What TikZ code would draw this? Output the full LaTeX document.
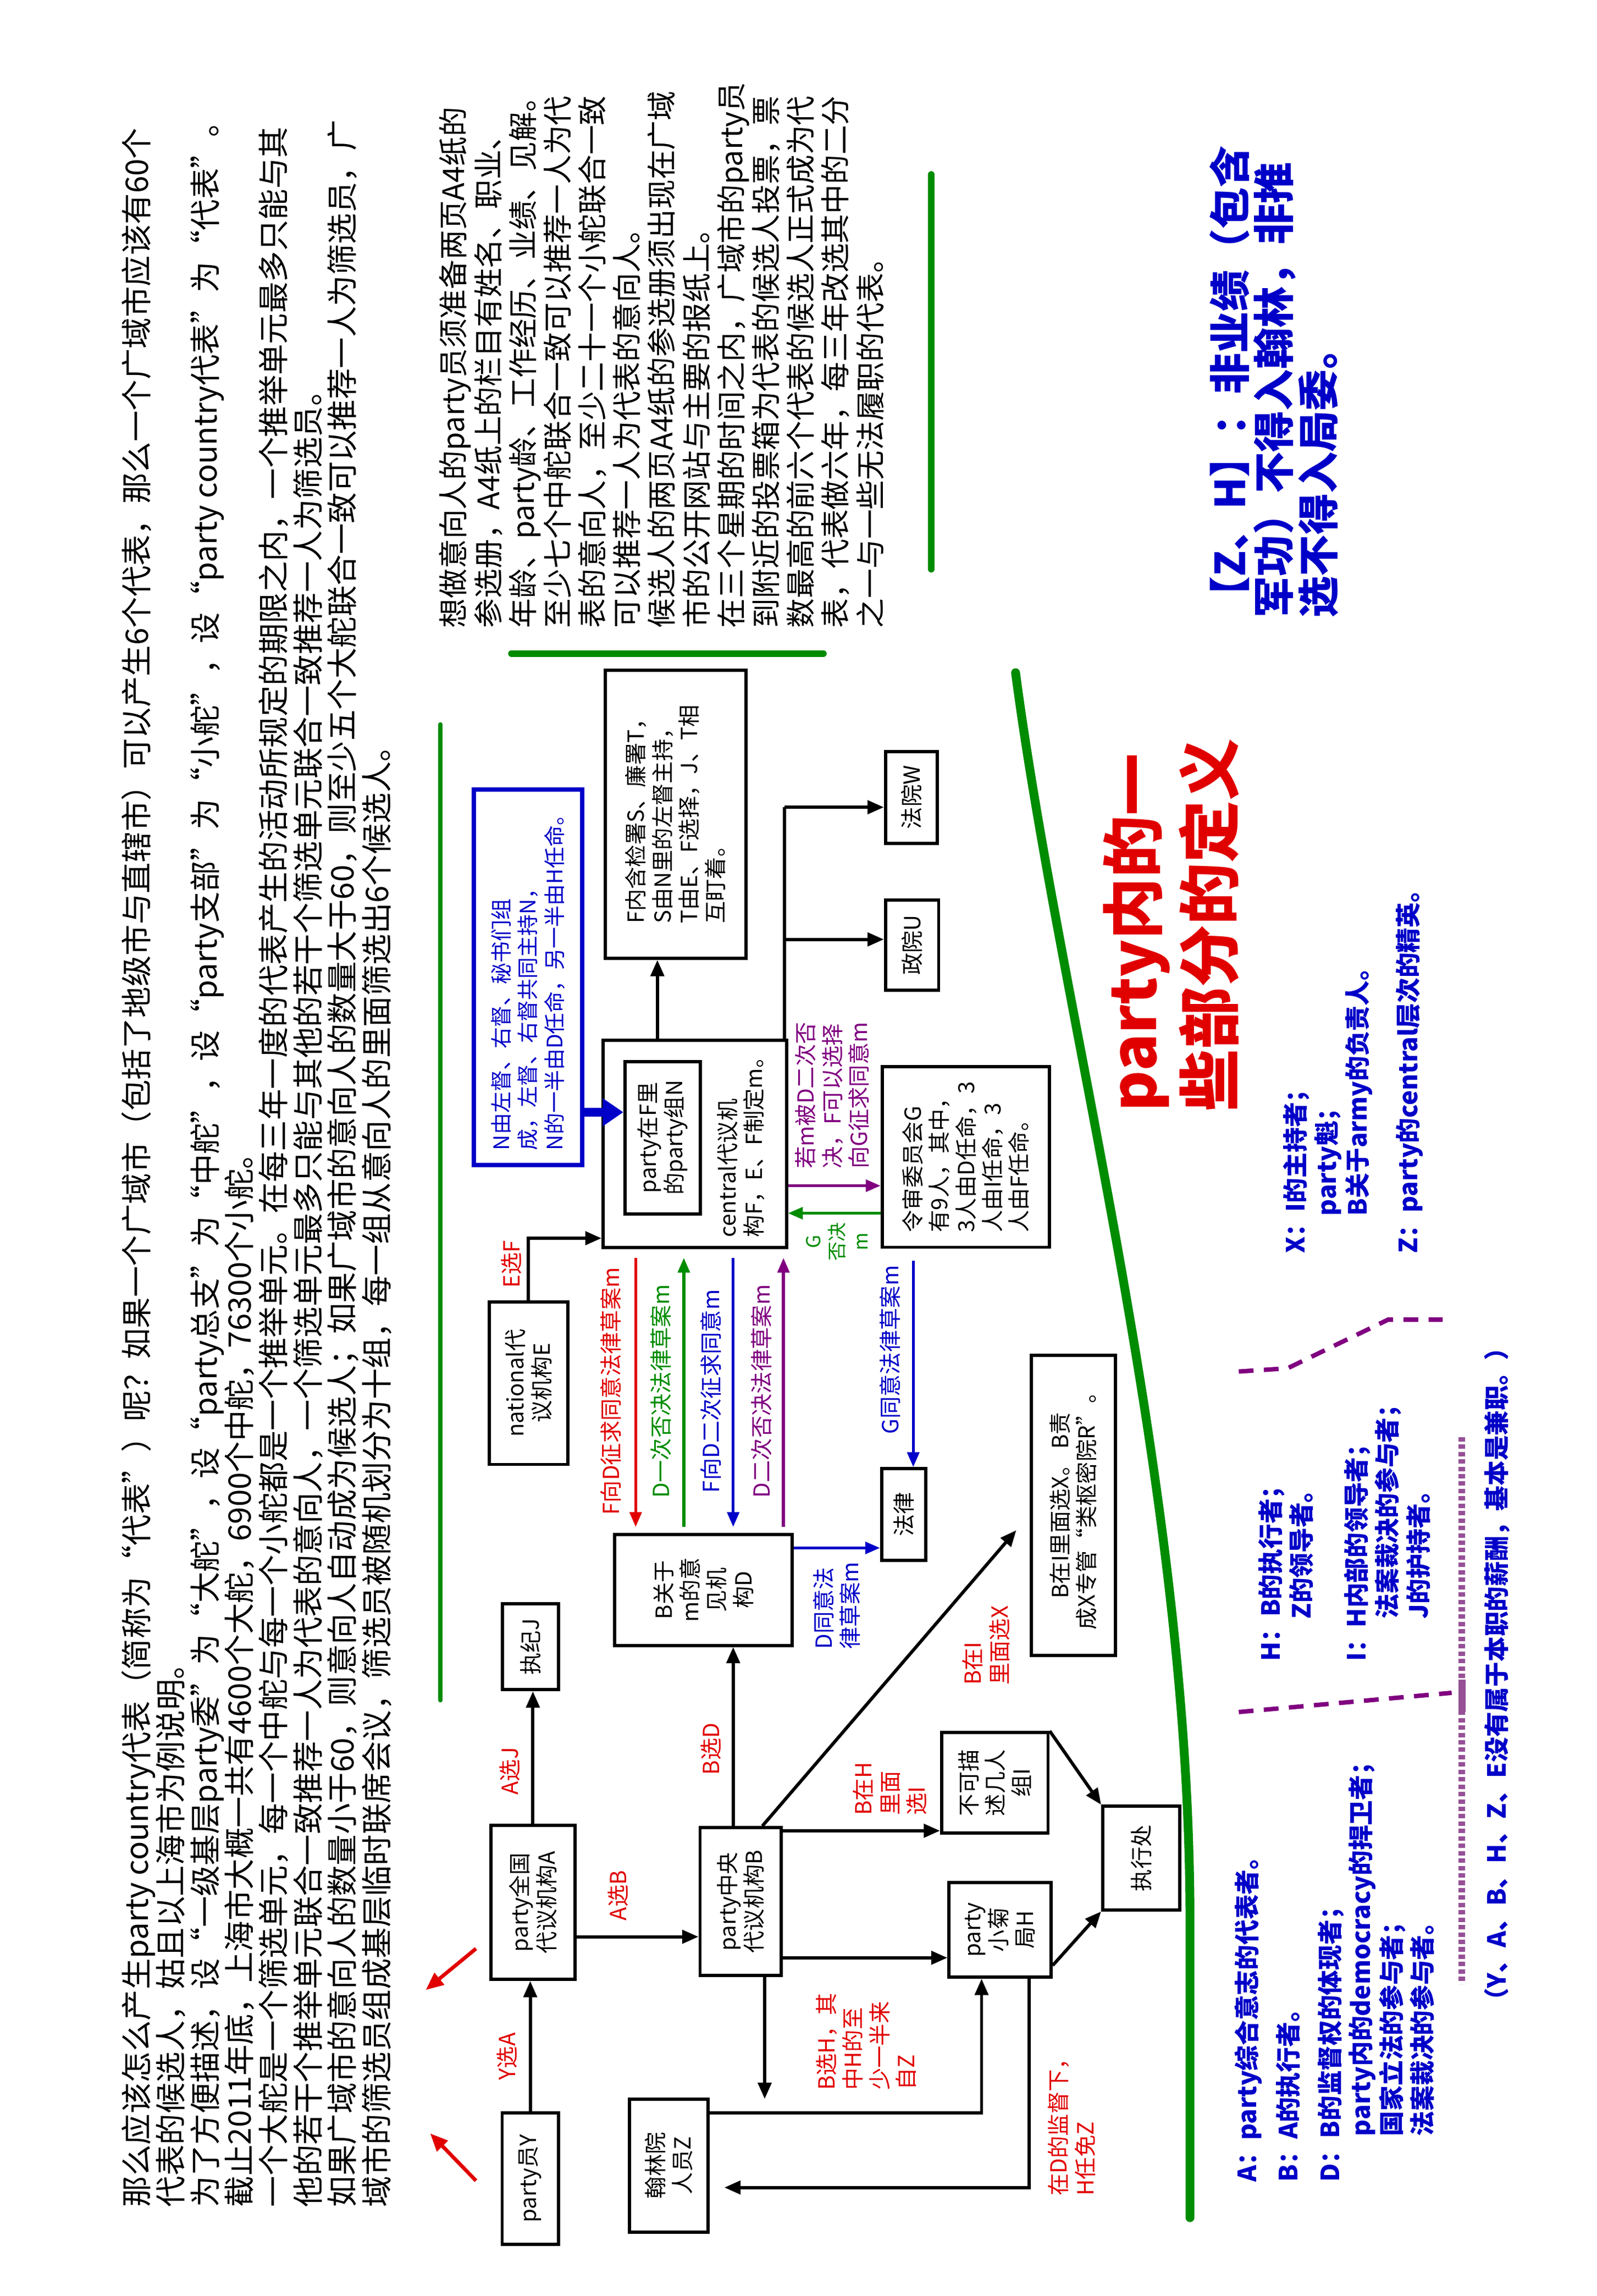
\documentclass[tikz,border=0pt]{standalone}
\usepackage{fontspec}
\setmainfont{Noto Sans CJK SC}
\usetikzlibrary{arrows.meta,calc}
\definecolor{cred}{RGB}{225,0,0}
\definecolor{cgreen}{RGB}{0,140,0}
\definecolor{cblue}{RGB}{0,0,200}
\definecolor{cpurple}{RGB}{128,0,128}
\definecolor{cdot}{RGB}{150,80,150}
\begin{document}
\begin{tikzpicture}[x=1pt,y=-1pt,
 bx/.style={draw, line width=2.2pt, rotate=90, align=center, inner sep=2pt, font=\fontsize{15}{18}\selectfont},
 lab/.style={rotate=90, align=left, inner sep=1pt, font=\fontsize{15}{18}\selectfont},
 arr/.style={line width=2.2pt, -{Triangle[length=11pt,width=9pt]}},
 carr/.style={line width=2pt, -{Triangle[length=10pt,width=8pt]}},
 para/.style={rotate=90, anchor=north west, align=left, inner sep=0pt},
 defs/.style={para, text=cblue, font=\bfseries\fontsize{17}{21}\selectfont},
 gline/.style={cgreen, line cap=round},
 pdash/.style={cpurple, line width=3pt, dash pattern=on 10pt off 7pt}
]
\fill[white] (0,0) rectangle (1080,1553);
\path[use as bounding box] (0,0) rectangle (1080,1553);

% paragraphs
\node[para, font=\fontsize{21}{23.2}\selectfont] (ptext) at (82,1493) {那么应该怎么产生party country代表（简称为“代表”）呢？如果一个广域市（包括了地级市与直辖市）可以产生6个代表，那么一个广域市应该有60个\\
代表的候选人，姑且以上海市为例说明。\\
为了方便描述，设“一级基层party委”为“大舵”，设“party总支”为“中舵”，设“party支部”为“小舵”，设“party country代表”为“代表”。\\
截止2011年底，上海市大概一共有4600个大舵，6900个中舵，76300个小舵。\\
一个大舵是一个筛选单元，每一个中舵与每一个小舵都是一个推举单元。在每三年一度的代表产生的活动所规定的期限之内，一个推举单元最多只能与其\\
他的若干个推举单元联合一致推荐一人为代表的意向人，一个筛选单元最多只能与其他的若干个筛选单元联合一致推荐一人为筛选员。\\
如果广域市的意向人的数量小于60，则意向人自动成为候选人；如果广域市的意向人的数量大于60，则至少五个大舵联合一致可以推荐一人为筛选员，广\\
域市的筛选员组成基层临时联席会议，筛选员被随机划分为十组，每一组从意向人的里面筛选出6个候选人。};

\node[para, font=\fontsize{20}{23.5}\selectfont] (rtext) at (297,425) {想做意向人的party员须准备两页A4纸的\\
参选册，A4纸上的栏目有姓名、职业、\\
年龄、party龄、工作经历、业绩、见解。\\
至少七个中舵联合一致可以推荐一人为代\\
表的意向人，至少二十一个小舵联合一致\\
可以推荐一人为代表的意向人。\\
候选人的两页A4纸的参选册须出现在广域\\
市的公开网站与主要的报纸上。\\
在三个星期的时间之内，广域市的party员\\
到附近的投票箱为代表的候选人投票，票\\
数最高的前六个代表的候选人正式成为代\\
表，代表做六年，每三年改选其中的二分\\
之一与一些无法履职的代表。};

\node[para, text=cblue, font=\bfseries\fontsize{28}{30}\selectfont] (zh) at (818,418) {【Z、H】：非业绩（包含\\军功）不得入翰林，非推\\选不得入局委。};

\node[para, text=cred, font=\bfseries\fontsize{42}{52}\selectfont] (title) at (746,752) {party内的一\\些部分的定义};

% green lines
\coordinate (g1a) at (298,490); \coordinate (g1b) at (298,1150);
\draw[gline, line width=3pt] (g1a) -- (g1b);
\coordinate (g2a) at (346,442); \coordinate (g2b) at (557,442);
\draw[gline, line width=4.5pt] (g2a) -- (g2b);
\coordinate (g3a) at (630,118); \coordinate (g3b) at (630,385);
\draw[gline, line width=4.5pt] (g3a) -- (g3b);
\coordinate (g4a) at (687,455); \coordinate (g4b) at (805,1300); \coordinate (g4c) at (805,1500);
\draw[gline, line width=6pt] (g4a) .. controls (718,690) and (805,1000) .. (g4b) -- (g4c);

% red arrows
\coordinate (r1a) at (322,1318); \coordinate (r1b) at (288,1346);
\coordinate (r2a) at (322,1475); \coordinate (r2b) at (291,1443);
\draw[cred, line width=2.5pt, -{Triangle[length=12pt,width=10pt]}] (r1a) -- (r1b);
\draw[cred, line width=2.5pt, -{Triangle[length=12pt,width=10pt]}] (r2a) -- (r2b);

% boxes
\node[bx, minimum width=89pt, minimum height=38pt] (Y) at (358.7,1473.5) {party员Y};
\node[bx, minimum width=90pt, minimum height=53pt] (Z) at (452.4,1464.7) {翰林院\\人员Z};
\node[bx, minimum width=104pt, minimum height=57pt] (A) at (360.5,1286.8) {party全国\\代议机构A};
\node[bx, minimum width=58pt, minimum height=38pt] (J) at (359,1113.9) {执纪J};
\node[bx, minimum width=110pt, minimum height=53pt] (E) at (357.5,935.5) {national代\\议机构E};
\node[bx, minimum width=100pt, minimum height=55pt] (B) at (501.1,1286.2) {party中央\\代议机构B};
\node[bx, minimum width=75pt, minimum height=120pt] (D) at (475.8,1075.4) {B关于\\m的意\\见机\\构D};
\node[bx, minimum width=68pt, minimum height=72pt] (I) at (673,1205.9) {不可描\\述几人\\组I};
\node[bx, minimum width=64pt, minimum height=69pt] (Hb) at (676.5,1305.3) {party\\小菊\\局H};
\node[bx, minimum width=70pt, minimum height=52pt] (Exec) at (772,1256.8) {执行处};
\node[bx, minimum width=62pt, minimum height=30pt] (Law) at (611.4,1024.4) {法律};
\node[bx, minimum width=203pt, minimum height=57pt] (X) at (726,1018.3) {B在I里面选X。 B责\\成X专管“类枢密院R”。};
\node[bx, minimum width=140pt, minimum height=124pt] (F) at (470,773.7) {};
\node[bx, minimum width=103pt, minimum height=51pt] (innerN) at (448.3,769.5) {party在F里\\的party组N};
\node[lab, anchor=north west] (ftext) at (484,838) {central代议机\\构F，E、F制定m。};
\node[bx, minimum width=195pt, minimum height=95pt, align=left] (S) at (457,550.7) {F内含检署S、廉署T，\\S由N里的左督主持，\\T由E、F选择，J、T相\\互盯着。};
\node[bx, minimum width=62pt, minimum height=35pt] (W) at (616.5,539.3) {法院W};
\node[bx, minimum width=61pt, minimum height=36pt] (U) at (617,639.3) {政院U};
\node[bx, minimum width=122pt, minimum height=113pt, align=left] (G) at (653.3,782.6) {令审委员会G\\有9人，其中，\\3人由D任命，3\\人由I任命，3\\人由F任命。};
\node[bx, draw=cblue, line width=3pt, text=cblue, minimum width=254pt, minimum height=73pt, align=left, font=\fontsize{14.5}{18}\selectfont] (Nb) at (357.2,661) {N由左督、右督、秘书们组\\成，左督、右督共同主持N，\\N的一半由D任命，另一半由H任命。};

% helper coordinates
\coordinate (yAB) at (0,1310);
\coordinate (xBD) at (496,0);
\coordinate (yBI) at (0,1238.3);
\coordinate (yBH) at (0,1324.2);
\coordinate (BZend) at (517.3,1419.7);
\coordinate (yZH) at (0,1429.2);
\coordinate (xZH) at (664,0);
\coordinate (xHZ) at (696,0);
\coordinate (yHZ) at (0,1479.6);
\coordinate (Xtip) at (687.5,1035);
\coordinate (yEF) at (0,837.5);
\coordinate (x1) at (430,0);
\coordinate (x2) at (462.6,0);
\coordinate (x3) at (496,0);
\coordinate (x4) at (530,0);
\coordinate (yDL) at (0,1047);
\coordinate (xGL) at (617.8,0);
\coordinate (yFG) at (0,802);
\coordinate (yGF) at (0,820.6);
\coordinate (xFS) at (444.7,0);
\coordinate (xFU) at (530.6,0);
\coordinate (yW) at (0,546);
\coordinate (yU) at (0,635.4);
\coordinate (yN) at (0,752.3);

% connectors
\draw[arr] (Y.east) -- (Y.east |- A.west);
\draw[arr] (A.east) -- (A.east |- J.west);
\draw[arr] (A.south |- yAB) -- (B.north |- yAB);
\draw[arr] (xBD |- B.east) -- (xBD |- D.west);
\draw[arr] ($(B.south east)+(-14,0)$) -- (Xtip);
\draw[arr] (B.south |- yBI) -- (I.north |- yBI);
\draw[arr] (B.south |- yBH) -- (Hb.north |- yBH);
\draw[arr] (BZend |- B.west) -- (BZend);
\draw[arr] (Z.south |- yZH) -| (xZH |- Hb.west);
\draw[arr, shorten >=10pt] (xHZ |- Hb.west) |- (Z.south |- yHZ);
\draw[arr] (I.south east) -- (Exec.north east);
\draw[arr] ($(Hb.south west)+(0,-9)$) -- (Exec.north west);
\draw[arr] (E.east) |- (F.north |- yEF);
\draw[carr, cred] ($(x1 |- F.west)+(0,6)$) -- ($(x1 |- D.east)+(0,-4)$);
\draw[carr, cgreen] ($(x2 |- D.east)+(0,-4)$) -- ($(x2 |- F.west)+(0,6)$);
\draw[carr, cblue] ($(x3 |- F.west)+(0,6)$) -- ($(x3 |- D.east)+(0,-4)$);
\draw[carr, cpurple] ($(x4 |- D.east)+(0,-4)$) -- ($(x4 |- F.west)+(0,6)$);
\draw[carr, cblue] (D.south |- yDL) -- (Law.north |- yDL);
\draw[carr, cblue] ($(xGL |- G.west)+(0,8)$) -- (xGL |- Law.east);
\draw[carr, cpurple] (F.south |- yFG) -- (G.north |- yFG);
\draw[carr, cgreen] (G.north |- yGF) -- (F.south |- yGF);
\draw[arr] (xFS |- F.east) -- (xFS |- S.west);
\draw[line width=2.2pt] (xFU |- F.east) -- (xFU |- yW);
\draw[arr] (xFU |- yW) -- (W.north |- yW);
\draw[arr] (xFU |- yU) -- (U.north |- yU);
\draw[cblue, line width=6pt, -{Triangle[length=14pt,width=18pt]}] (Nb.south |- yN) -- (innerN.north |- yN);

% labels
\node[lab, text=cred] (lYA) at (343,1391) {Y选A};
\node[lab, text=cred] (lAJ) at (345,1198) {A选J};
\node[lab, text=cred] (lAB) at (418,1282) {A选B};
\node[lab, text=cred] (lBD) at (481,1183) {B选D};
\node[lab, text=cred] (lBI) at (602,1210) {B在H\\里面\\选I};
\node[lab, text=cred] (lBH) at (586,1381) {B选H，其\\中H的至\\少一半来\\自Z};
\node[lab, text=cred] (lHZ) at (725,1435) {在D的监督下，\\H任免Z};
\node[lab, text=cred] (lBX) at (667,1113) {B在I\\里面选X};
\node[lab, text=cred] (lEF) at (346,855) {E选F};
\node[lab, text=cred] (l1) at (413,941) {F向D征求同意法律草案m};
\node[lab, text=cgreen] (l2) at (447,941) {D一次否决法律草案m};
\node[lab, text=cblue] (l3) at (481,941) {F向D二次征求同意m};
\node[lab, text=cpurple] (l4) at (515,941) {D二次否决法律草案m};
\node[lab, text=cblue] (lDL) at (566,1086) {D同意法\\律草案m};
\node[lab, text=cblue] (lGL) at (602,913) {G同意法律草案m};
\node[lab, text=cgreen, align=center, font=\fontsize{13}{16}\selectfont] (lGF) at (566,840) {G\\否决\\m};
\node[lab, text=cpurple] (lFG) at (563,741) {若m被D二次否\\决，F可以选择\\向G征求同意m};

% definitions
\node[defs] (dX) at (868,848) {X：I的主持者；\\\hspace{1.5em}party魁；\\\hspace{1.5em}B关于army的负责人。};
\node[defs] (dZ) at (944,848) {Z：party的central层次的精英。};
\node[defs, font=\bfseries\fontsize{17}{28}\selectfont] (dA) at (835,1476) {A：party综合意志的代表者。\\B：A的执行者。\\D：B的监督权的体现者；};
\node[defs] (dD) at (912,1445) {party内的democracy的捍卫者；\\国家立法的参与者；\\法案裁决的参与者。};
\node[defs] (dH) at (851,1124) {H：B的执行者；\\\hspace{1.7em}Z的领导者。};
\node[defs] (dI) at (909,1124) {I：H内部的领导者；\\\hspace{1.7em}法案裁决的参与者；\\\hspace{1.7em}J的护持者。};
\node[defs] (dnote) at (1004,1362) {（Y、A、B、H、Z、E没有属于本职的薪酬，基本是兼职。）};

% purple separators
\coordinate (p1a) at (838,1158); \coordinate (p1b) at (982,1145);
\draw[pdash] (p1a) -- (p1b);
\coordinate (p2a) at (838,927.7); \coordinate (p2b) at (871,925.5); \coordinate (p2c) at (939,892.6); \coordinate (p2d) at (976,892.6);
\draw[pdash] (p2a) -- (p2b) -- (p2c) -- (p2d);
\coordinate (p3a) at (989,972); \coordinate (p3b) at (989,1342);
\draw[cdot, line width=4.5pt, dash pattern=on 3pt off 2pt] (p3a) -- (p3b);
\coordinate (p4a) at (989,1136); \coordinate (p4b) at (989,1158);
\draw[cdot, line width=5pt] (p4a) -- (p4b);
\end{tikzpicture}
\end{document}
